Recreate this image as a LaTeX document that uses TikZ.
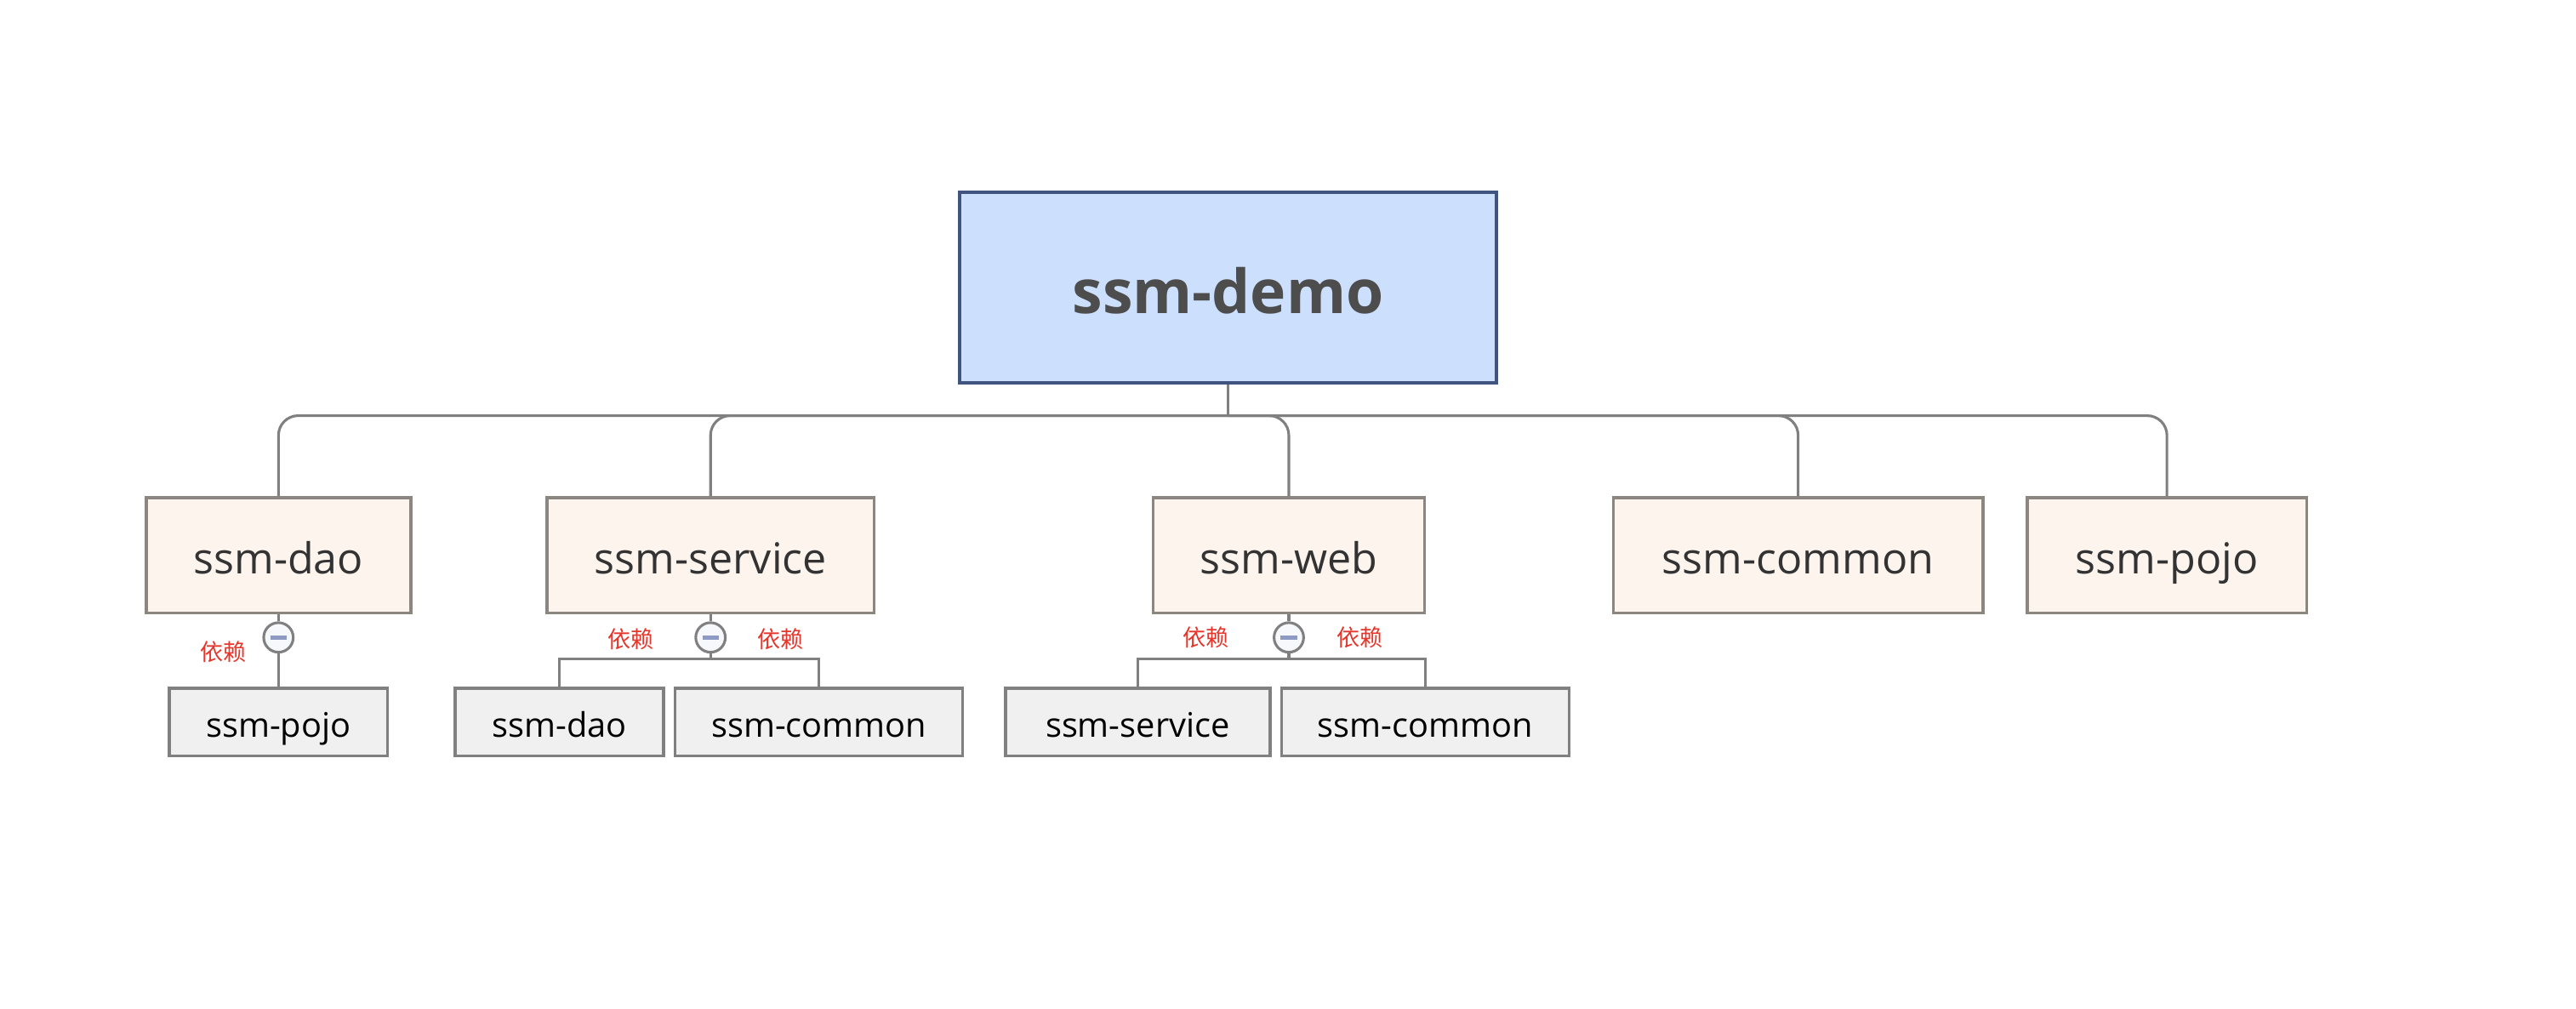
\documentclass[tikz,border=0pt]{standalone}
\usepackage{fontspec}
\setmainfont{Open Sans}
\newfontfamily\cjk{Noto Sans CJK SC}
\usetikzlibrary{positioning}
\definecolor{rootfill}{HTML}{CCDFFC}
\definecolor{rootline}{HTML}{3F5580}
\definecolor{roottext}{HTML}{4D4D4D}
\definecolor{modfill}{HTML}{FEF4EE}
\definecolor{modline}{HTML}{8C8680}
\definecolor{modtext}{HTML}{333333}
\definecolor{depfill}{HTML}{F0F0F0}
\definecolor{depline}{HTML}{808080}
\definecolor{linkgray}{HTML}{808080}
\definecolor{deptext}{HTML}{E6352B}
\definecolor{foldfill}{HTML}{F7F8FC}
\definecolor{foldmark}{HTML}{8E9AC4}

\begin{document}
\begin{tikzpicture}[x=0.5pt, y=-0.5pt,
    root/.style={draw=rootline, fill=rootfill, line width=1pt, minimum width=163.5pt,
      minimum height=58pt, text=roottext, text height=16pt, text depth=0pt,
      font=\fontsize{18.5}{22}\selectfont\bfseries},
    module/.style={draw=modline, fill=modfill, line width=0.9pt, minimum height=35pt,
      text=modtext, text height=11.5pt, text depth=0pt, font=\fontsize{13}{15}\selectfont},
    dep/.style={draw=depline, fill=depfill, line width=0.9pt, minimum height=20.5pt,
      text=black, text height=9pt, text depth=0pt, font=\fontsize{10.3}{12}\selectfont},
    fold/.style={circle, draw=linkgray, fill=foldfill, line width=0.8pt, minimum size=9pt,
      inner sep=0pt},
    link/.style={draw=linkgray, line width=0.8pt},
    deplabel/.style={text=deptext, inner sep=0pt, font=\cjk\fontsize{7}{8}\selectfont}]

  \useasboundingbox (0,0) rectangle (1568,614);

  \node[root] (demo) at (747.5,175) {ssm-demo};

  \node[module, minimum width=80.5pt] (dao) at (169.5,338) {ssm-dao};
  \node[module, minimum width=99.5pt] (service) at (432.5,338) {ssm-service};
  \node[module, minimum width=82.5pt] (web) at (784.5,338) {ssm-web};
  \node[module, minimum width=112.5pt] (common) at (1094.5,338) {ssm-common};
  \node[module, minimum width=85pt] (pojo) at (1319,338) {ssm-pojo};

  \node[fold] (daofold) at (169.5,388) {\textcolor{foldmark}{\rule[-0.6pt]{5pt}{1.3pt}}};
  \node[fold] (servicefold) at (432.5,388) {\textcolor{foldmark}{\rule[-0.6pt]{5pt}{1.3pt}}};
  \node[fold] (webfold) at (784.5,388) {\textcolor{foldmark}{\rule[-0.6pt]{5pt}{1.3pt}}};

  \node[dep, minimum width=66.5pt] (daopojo) at (169.5,439.5) {ssm-pojo};
  \node[dep, minimum width=63.5pt] (servicedao) at (340.5,439.5) {ssm-dao};
  \node[dep, minimum width=87.5pt] (servicecommon) at (498.5,439.5) {ssm-common};
  \node[dep, minimum width=80.5pt] (webservice) at (692.5,439.5) {ssm-service};
  \node[dep, minimum width=87.5pt] (webcommon) at (867.5,439.5) {ssm-common};

  \node[deplabel] (daolabel) at (136,397) {依赖};
  \node[deplabel] (servicelabela) at (384,389) {依赖};
  \node[deplabel] (servicelabelb) at (475,389) {依赖};
  \node[deplabel] (weblabela) at (734,388) {依赖};
  \node[deplabel] (weblabelb) at (828,388) {依赖};

  \coordinate (bus) at (747.5,253);
  \draw[link] (demo.south) -- (bus);
  \foreach \m in {dao,service,web,common,pojo}
    \draw[link, rounded corners=6pt] (bus) -| (\m.north);

  \draw[link] (dao.south) -- (daofold.north);
  \draw[link] (daofold.south) -- (daopojo.north);

  \coordinate (servicebus) at (432.5,401);
  \draw[link] (service.south) -- (servicefold.north);
  \draw[link] (servicefold.south) -- (servicebus);
  \draw[link] (servicebus) -| (servicedao.north);
  \draw[link] (servicebus) -| (servicecommon.north);

  \coordinate (webbus) at (784.5,401);
  \draw[link] (web.south) -- (webfold.north);
  \draw[link] (webfold.south) -- (webbus);
  \draw[link] (webbus) -| (webservice.north);
  \draw[link] (webbus) -| (webcommon.north);
\end{tikzpicture}
\end{document}
